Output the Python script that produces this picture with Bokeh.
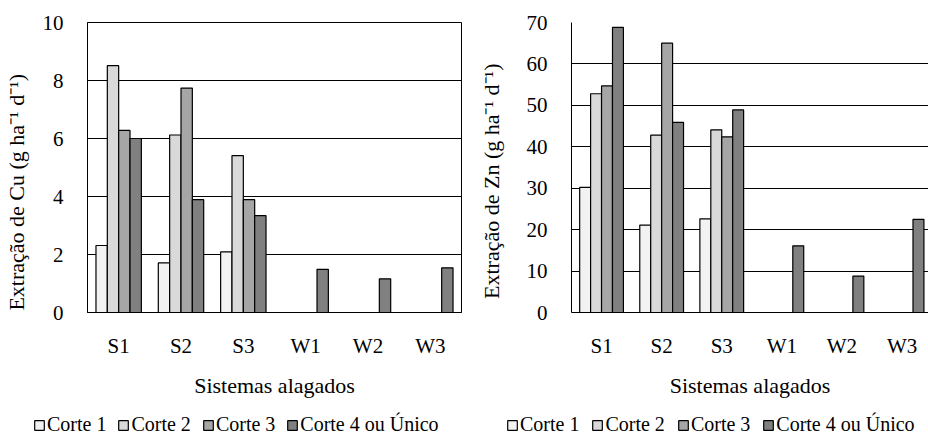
import math
from bokeh.plotting import figure
from bokeh.models import Range1d, FixedTicker, Legend, LegendItem, ColumnDataSource
from bokeh.layouts import row, column
from bokeh.embed import file_html
from bokeh.resources import INLINE

nan = float("nan")

categories = ["S1", "S2", "S3", "W1", "W2", "W3"]
series_names = ["Corte 1", "Corte 2", "Corte 3", "Corte 4 ou Único"]
series_colors = ["#f2f2f2", "#d9d9d9", "#a6a6a6", "#808080"]

cu_corte1 = [2.31, 1.71, 2.09, nan, nan, nan]
cu_corte2 = [8.51, 6.12, 5.41, nan, nan, nan]
cu_corte3 = [6.28, 7.74, 3.89, nan, nan, nan]
cu_corte4 = [6.00, 3.89, 3.34, 1.49, 1.16, 1.54]

zn_corte1 = [30.2, 21.1, 22.6, nan, nan, nan]
zn_corte2 = [52.8, 42.8, 44.1, nan, nan, nan]
zn_corte3 = [54.7, 65.0, 42.4, nan, nan, nan]
zn_corte4 = [68.8, 45.9, 48.9, 16.1, 8.8, 22.5]

cu_ticks = [0, 2, 4, 6, 8, 10]
zn_ticks = [0, 10, 20, 30, 40, 50, 60, 70]

cu_ylabel = "Extração de Cu (g  ha⁻¹ d⁻¹)"
zn_ylabel = "Extração de Zn (g  ha⁻¹ d⁻¹)"
xlabel = "Sistemas alagados"

FONT = "Liberation Serif"
CHART_H = 404
LEG_H = 440 - CHART_H
NBSP = "\u00a0"


def make_chart(width, series, ymax, yticks, ylabel, xend, mb_left, mb_right, mb_top, frame_h,
               label_standoff, outline):
    p = figure(width=width, height=CHART_H, x_range=Range1d(0, xend), y_range=Range1d(0, ymax),
               output_backend="svg", toolbar_location=None,
               min_border_left=mb_left, min_border_right=mb_right,
               min_border_top=mb_top, min_border_bottom=CHART_H - mb_top - frame_h)
    p.background_fill_color = "white"
    p.border_fill_color = "white"
    if outline:
        p.outline_line_color = "black"
        p.outline_line_width = 1
        p.outline_line_alpha = 1
    else:
        p.outline_line_color = None

    bw = 0.182
    offsets = [-1.5 * bw, -0.5 * bw, 0.5 * bw, 1.5 * bw]
    for vals, name, col, off in zip(series, series_names, series_colors, offsets):
        xs = [i + 0.5 + off for i in range(len(categories))]
        src = ColumnDataSource(dict(x=xs, top=vals))
        p.vbar(x="x", top="top", bottom=0, width=bw, source=src,
               fill_color=col, line_color="black", line_width=1.2)

    p.xgrid.grid_line_color = None
    p.ygrid.grid_line_color = "black"
    p.ygrid.grid_line_alpha = 1
    p.ygrid.grid_line_width = 1
    p.ygrid.ticker = FixedTicker(ticks=yticks)

    p.yaxis.ticker = FixedTicker(ticks=yticks)
    p.xaxis.ticker = FixedTicker(ticks=[i + 0.5 for i in range(len(categories))])
    p.xaxis.major_label_overrides = {i + 0.5: c for i, c in enumerate(categories)}

    for ax in (p.xaxis, p.yaxis):
        ax.major_tick_line_color = None
        ax.minor_tick_line_color = None
        ax.axis_line_color = "black"
        ax.axis_line_width = 1
        ax.major_label_text_font = FONT
        ax.major_label_text_font_size = "21px"
        ax.major_label_text_color = "black"
        ax.axis_label_text_font = FONT
        ax.axis_label_text_font_size = "22px"
        ax.axis_label_text_font_style = "normal"
        ax.axis_label_text_color = "black"

    p.yaxis.axis_label = ylabel
    p.yaxis.major_label_standoff = 18
    p.yaxis.axis_label_standoff = label_standoff
    p.xaxis.axis_label = xlabel
    p.xaxis.major_label_standoff = 15
    p.xaxis.axis_label_standoff = 12
    return p


def make_legend_strip(width, starts, spacings):
    q = figure(width=width, height=LEG_H, x_range=Range1d(0, 1), y_range=Range1d(0, 1),
               output_backend="svg", toolbar_location=None,
               x_axis_type=None, y_axis_type=None,
               min_border_left=0, min_border_right=0, min_border_top=0, min_border_bottom=0)
    q.outline_line_color = None
    q.grid.grid_line_color = None
    q.background_fill_color = "white"
    q.border_fill_color = "white"
    for x0, spacing in zip(starts, spacings):
        items = []
        for name, col in zip(series_names, series_colors):
            # placeholder renderer outside the visible range, only used for the legend swatch
            src = ColumnDataSource(dict(x=[-10.0], top=[0.0]))
            r = q.vbar(x="x", top="top", bottom=0, width=0.1, source=src,
                       fill_color=col, line_color="black", line_width=1.2)
            items.append(LegendItem(label=name, renderers=[r]))
        leg = Legend(items=items, orientation="horizontal", location=(x0, 4))
        leg.background_fill_alpha = 0
        leg.border_line_color = None
        leg.label_text_font = FONT
        leg.label_text_font_size = "20px"
        leg.label_text_color = "black"
        leg.glyph_width = 12
        leg.glyph_height = 12
        leg.label_standoff = 2
        leg.label_width = 0
        leg.spacing = spacing
        leg.padding = 0
        leg.margin = 0
        q.add_layout(leg, "center")
    return q


left = make_chart(470, [cu_corte1, cu_corte2, cu_corte3, cu_corte4], 10, cu_ticks,
                  cu_ylabel + NBSP * 8, 6, 86, 9, 22, 294, 11, True)
right = make_chart(458, [zn_corte1, zn_corte2, zn_corte3, zn_corte4], 70, zn_ticks,
                   zn_ylabel + NBSP * 4, 5.94, 101, 0, 19, 293, 20, False)

legend_strip = make_legend_strip(928, [33, 506], [11, 12])

layout = column(row(left, right, spacing=0), legend_strip, spacing=0)
open("out.html", "w").write(file_html(layout, INLINE))
